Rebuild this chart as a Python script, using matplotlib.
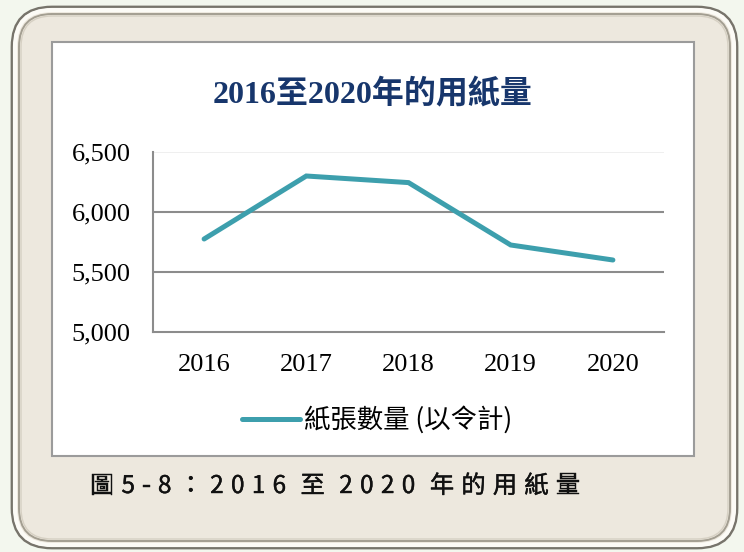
import matplotlib
matplotlib.use('Agg')
import matplotlib.pyplot as plt
import matplotlib.patheffects as pe
from matplotlib.patches import FancyBboxPatch, Rectangle
from matplotlib.ticker import FuncFormatter

# data
years = ['2016', '2017', '2018', '2019', '2020']
sheets = [5775, 6300, 6245, 5725, 5600]
y_ticks = [5000, 5500, 6000, 6500]

title = '2016至2020年的用紙量'
series_name = '紙張數量 (以令計)'
caption = '圖5-8：2016 至 2020 年的用紙量'

W, H = 744, 552
teal = '#3d9fad'
grid_gray = '#8c8c8c'
serif = ['Liberation Serif', 'Noto Sans CJK TC']
sans = ['Noto Sans CJK TC', 'DejaVu Sans']


def main():
    fig = plt.figure(figsize=(W / 100, H / 100), dpi=100)
    fig.patch.set_facecolor('#f3f7ee')

    # frame and white panel, drawn in pixel units on a full-figure axes
    bg = fig.add_axes([0, 0, 1, 1])
    bg.set_xlim(0, W)
    bg.set_ylim(H, 0)
    bg.axis('off')
    bg.add_patch(FancyBboxPatch((12, 7), 725, 541, boxstyle='round,pad=0,rounding_size=40',
                                facecolor='#ede8de', edgecolor='#77746b', lw=2.0))
    bg.add_patch(FancyBboxPatch((15, 10), 719, 535, boxstyle='round,pad=0,rounding_size=37',
                                facecolor='none', edgecolor='#fcfbf6', lw=3.0))
    bg.add_patch(FancyBboxPatch((19, 14), 711, 527, boxstyle='round,pad=0,rounding_size=33',
                                facecolor='none', edgecolor='#a39e91', lw=1.4))
    bg.add_patch(FancyBboxPatch((21, 16), 707, 523, boxstyle='round,pad=0,rounding_size=31',
                                facecolor='none', edgecolor='#d6d0c3', lw=1.0))
    bg.add_patch(Rectangle((52, 42), 642, 414, facecolor='white', edgecolor='#9b9b9b', lw=1.5))

    # chart title
    fig.text(373 / W, 1 - 95 / H, title, ha='center', va='center', fontsize=23,
             fontweight='bold', color='#17366c', family=serif)

    # line chart
    ax = fig.add_axes([153 / W, (H - 332) / H, (664 - 153) / W, 180 / H])
    ax.patch.set_alpha(0)
    x = range(len(years))
    line, = ax.plot(x, sheets, color=teal, lw=3.6, solid_capstyle='round',
                    solid_joinstyle='miter', label=series_name, zorder=3)
    ax.set_xlim(-0.5, len(years) - 0.5)
    ax.set_ylim(y_ticks[0], y_ticks[-1])
    ax.set_yticks(y_ticks)
    ax.set_xticks(list(x))
    ax.set_xticklabels(years)
    ax.yaxis.set_major_formatter(FuncFormatter(lambda v, p: f'{int(v):,}'))
    for t in y_ticks[1:-1]:
        ax.axhline(t, color=grid_gray, lw=1.5, zorder=1)
    ax.axhline(y_ticks[-1], color='#ececec', lw=1.2, zorder=1)
    for side in ['top', 'right']:
        ax.spines[side].set_visible(False)
    for side in ['left', 'bottom']:
        ax.spines[side].set_color(grid_gray)
        ax.spines[side].set_linewidth(1.5)
    ax.tick_params(axis='y', length=0, pad=16, labelsize=19)
    ax.tick_params(axis='x', length=0, pad=16, labelsize=19)
    for lab in ax.get_xticklabels() + ax.get_yticklabels():
        lab.set_family(serif)

    # legend below the plot
    fig.legend(handles=[line], loc='center', bbox_to_anchor=(377 / W, 1 - 420 / H),
               frameon=False, handlelength=2.2, handletextpad=0.15,
               prop={'family': sans, 'size': 19})

    # caption with letter spacing, slightly heavier than regular
    renderer = fig.canvas.get_renderer()
    texts = []
    widths = []
    for ch in caption:
        t = fig.text(0, 1 - 486 / H, ch, ha='left', va='center', fontsize=17.5,
                     color='#111111', family=sans,
                     path_effects=[pe.withStroke(linewidth=0.3, foreground='#111111')])
        w = t.get_window_extent(renderer).width if ch != ' ' else 0
        texts.append(t)
        widths.append(w)
    x0, x1 = 90, 580
    gap = (x1 - x0 - sum(widths)) / (len(caption) - 1)
    pos = x0
    for t, w in zip(texts, widths):
        t.set_x(pos / W)
        pos += w + gap

    fig.savefig('out.png', dpi=100, facecolor=fig.get_facecolor())


if __name__ == '__main__':
    main()
